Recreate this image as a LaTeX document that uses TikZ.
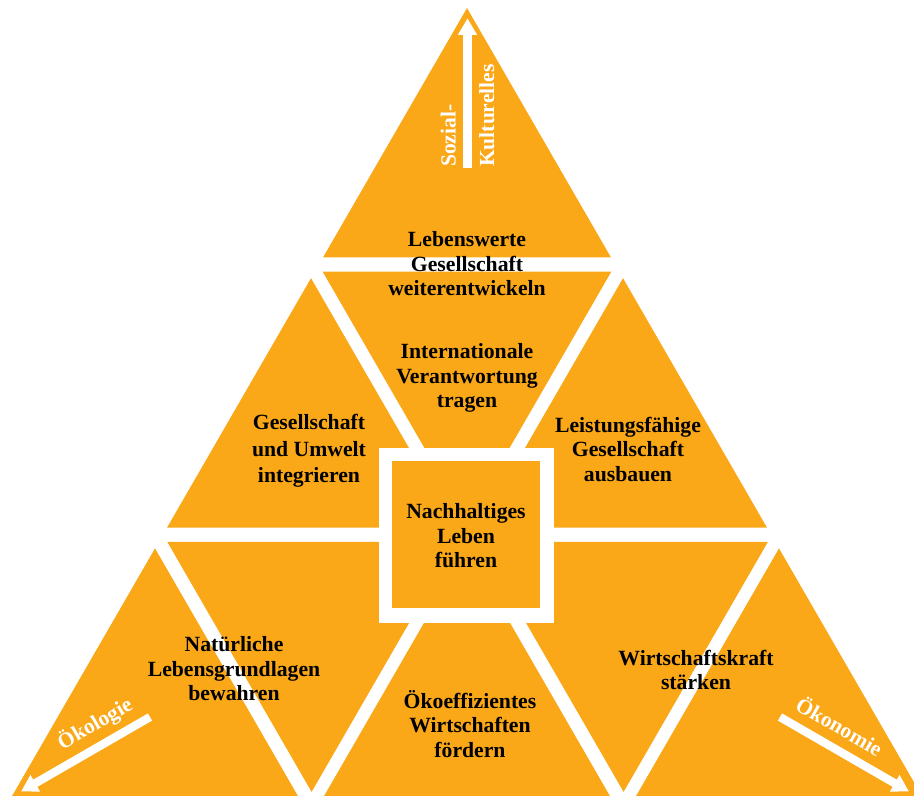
\documentclass[tikz,border=0pt]{standalone}
\usepackage{fontspec}
\setmainfont{Liberation Serif}
\usetikzlibrary{arrows.meta}
\definecolor{tri}{RGB}{250,167,24}
\begin{document}
\begin{tikzpicture}[x=1bp,y=-1bp,
  piece/.style={fill=tri},
  lbl/.style={align=center, inner sep=0pt, text=black,
    font=\bfseries\fontsize{21.7bp}{24.5bp}\selectfont},
  axlbl/.style={inner sep=0pt, text=white,
    font=\bfseries\fontsize{21.5bp}{26bp}\selectfont},
  axarrow/.style={draw=white, line width=8.3bp,
    -{Triangle[width=18bp,length=16.5bp]}}]
\useasboundingbox (0,0) rectangle (914,796);
\begin{scope}
\clip (0,0) rectangle (914,796);
% upright triangles
\fill[piece] (467,8) -- (610.9,257.3) -- (323.1,257.3) -- cycle;
\fill[piece] (311,278.2) -- (454.9,527.5) -- (167.1,527.5) -- cycle;
\fill[piece] (623,278.2) -- (766.9,527.5) -- (479.1,527.5) -- cycle;
\fill[piece] (155,548.4) -- (298.9,797.7) -- (11.1,797.7) -- cycle;
\fill[piece] (467,548.4) -- (610.9,797.7) -- (323.1,797.7) -- cycle;
\fill[piece] (779,548.4) -- (922.9,797.7) -- (635.1,797.7) -- cycle;
% inverted triangles
\fill[piece] (322.7,271.7) -- (611.3,271.7) -- (467,521.7) -- cycle;
\fill[piece] (167.3,541.9) -- (455.9,541.9) -- (311.6,791.9) -- cycle;
\fill[piece] (479.3,541.9) -- (767.9,541.9) -- (623.6,791.9) -- cycle;
% centre square
\fill[white] (378.5,447.5) rectangle (553.5,622.5);
\fill[piece] (392.3,460.8) rectangle (539.9,608.3);
% axis arrows
\coordinate (vs) at (467.5,168);
\coordinate (ve) at (467.5,18.3);
\draw[axarrow] (vs) -- (ve);
\coordinate (ls) at (150,717);
\coordinate (le) at (21,791.5);
\draw[axarrow] (ls) -- (le);
\coordinate (rs) at (780,717);
\coordinate (re) at (909,791.5);
\draw[axarrow] (rs) -- (re);
\end{scope}
% axis labels
\node[axlbl, rotate=90, anchor=west] (soz) at (448.3,167) {Sozial-};
\node[axlbl, rotate=90, anchor=west] (kult) at (486.7,167) {Kulturelles};
\node[axlbl, rotate=30] (oekol) at (95,723.8) {Ökologie};
\node[axlbl, rotate=-30] (oekon) at (840,725.5) {Ökonomie};
% labels
\node[lbl] (t0) at (467,264) {Lebenswerte\\Gesellschaft\\weiterentwickeln};
\node[lbl] (t1) at (467,378) {Internationale\\Verantwortung\\tragen};
\node[lbl, font=\bfseries\fontsize{21.7bp}{26.5bp}\selectfont] (t2) at (309,451) {Gesellschaft\\und Umwelt\\integrieren};
\node[lbl] (t3) at (628,449) {Leistungsfähige\\Gesellschaft\\ausbauen};
\node[lbl] (t4) at (466,536) {Nachhaltiges\\Leben\\führen};
\node[lbl] (t5) at (234,669) {Natürliche\\Lebensgrundlagen\\bewahren};
\node[lbl] (t6) at (470,724) {Ökoeffizientes\\Wirtschaften\\fördern};
\node[lbl] (t7) at (696,670) {Wirtschaftskraft\\stärken};
\end{tikzpicture}
\end{document}
